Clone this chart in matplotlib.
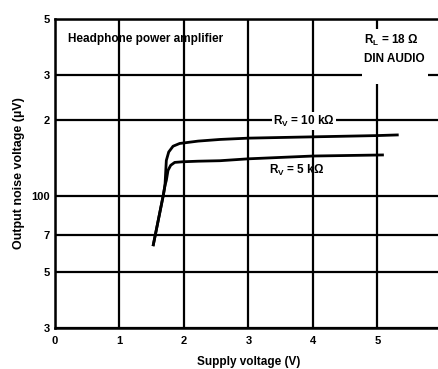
import matplotlib.pyplot as plt

plt.rcParams['font.family'] = ['Liberation Sans', 'DejaVu Sans']

# supply voltage (V) and output noise (uV)
v_10k = [1.525, 1.68, 1.706, 1.727, 1.764, 1.831, 1.934, 2.22, 2.56, 3.0, 4.0, 5.0, 5.31]
n_10k = [64, 100.5, 110, 138, 149, 157, 161, 164.5, 167, 169, 171, 173, 174]
v_5k = [1.525, 1.68, 1.706, 1.727, 1.753, 1.795, 1.857, 1.986, 2.22, 2.56, 3.0, 4.0, 5.08]
n_5k = [64, 100.5, 110, 115, 126, 132, 135.5, 136.3, 137, 137.6, 140, 143.6, 145]

x_ticks = [0, 1, 2, 3, 4, 5, 6]
y_ticks = [30, 50, 70, 100, 200, 300, 500]
y_labels = ["3", "5", "7", "100", "2", "3", "5"]

fig = plt.figure(figsize=(4.38, 3.69), dpi=100)
ax = fig.add_axes([0.1256, 0.1111, 0.883, 0.8374])

ax.set_yscale('log')
ax.set_xlim(0, 6)
ax.set_ylim(30, 500)
ax.set_xticks(x_ticks)
ax.set_xticklabels([str(t) for t in x_ticks])
ax.set_yticks(y_ticks)
ax.set_yticklabels(y_labels)
ax.minorticks_off()
ax.tick_params(length=0, labelsize=8)
ax.tick_params(axis='x', pad=6)
ax.tick_params(axis='y', pad=4)
for lab in ax.get_xticklabels() + ax.get_yticklabels():
    lab.set_fontweight('bold')

ax.grid(True, color='black', linewidth=1.6)
for s in ax.spines.values():
    s.set_linewidth(1.8)

ax.plot(v_10k, n_10k, color='black', linewidth=2)
ax.plot(v_5k, n_5k, color='black', linewidth=2)

ax.text(3.86, 197, "R$_\\mathregular{V}$ = 10 kΩ", ha='center', va='center',
        fontsize=8.5, fontweight='bold',
        bbox=dict(facecolor='white', edgecolor='none', pad=1))
ax.text(3.75, 126, "R$_\\mathregular{V}$ = 5 kΩ", ha='center', va='center',
        fontsize=8.5, fontweight='bold')
ax.text(0.2, 415, "Headphone power amplifier", ha='left', va='center',
        fontsize=8.5, fontweight='bold')
# trailing blank line widens the white box down over the 300 grid line
ax.text(4.8, 440, "R$_\\mathregular{L}$ = 18 Ω\nDIN AUDIO\n", ha='left', va='top',
        fontsize=8.5, fontweight='bold', linespacing=1.5,
        bbox=dict(facecolor='white', edgecolor='none', pad=2))

ax.set_xlabel("Supply voltage (V)", fontsize=8.5, fontweight='bold', labelpad=7)
ax.set_ylabel("Output noise voltage (µV)", fontsize=9, fontweight='bold', labelpad=4)

fig.savefig("out.png", dpi=100)
